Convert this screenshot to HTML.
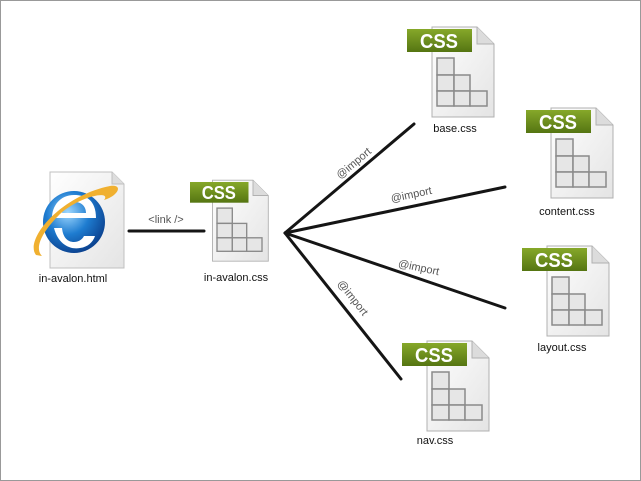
<!DOCTYPE html>
<html><head><style>
html,body{margin:0;padding:0;background:#fff;}
svg{display:block;}
text{font-family:"Liberation Sans",sans-serif;}
</style></head><body>
<svg width="641" height="481" viewBox="0 0 641 481">
<defs>
<linearGradient id="gb" x1="0" y1="0" x2="0" y2="1"><stop offset="0" stop-color="#86a82a"/><stop offset="1" stop-color="#557512"/></linearGradient>
<linearGradient id="pg" x1="0" y1="0" x2="1" y2="1"><stop offset="0" stop-color="#ffffff"/><stop offset="1" stop-color="#e4e4e4"/></linearGradient>
<radialGradient id="eb" cx="0.4" cy="0.35" r="0.7"><stop offset="0" stop-color="#9fd8ff"/><stop offset="0.5" stop-color="#1e7cd0"/><stop offset="1" stop-color="#0a3d8a"/></radialGradient>
<g id="icon">
<path d="M25,-2 H70 L87,15 V88 H25 Z" fill="url(#pg)" stroke="#b0b0b0" stroke-width="1"/>
<path d="M70,-2 V15 H87" fill="#dcdcdc" stroke="#b0b0b0"/>
<g fill="#e6e6e6" stroke="#8a8a8a" stroke-width="1.5">
<rect x="30" y="29" width="17" height="17"/>
<rect x="30" y="46" width="17" height="16"/>
<rect x="47" y="46" width="16" height="16"/>
<rect x="30" y="62" width="17" height="15"/>
<rect x="47" y="62" width="16" height="15"/>
<rect x="63" y="62" width="17" height="15"/>
</g>
<rect x="0" y="0" width="65" height="23" fill="url(#gb)"/>
<text x="13" y="19" fill="#fff" font-size="20" font-weight="bold" textLength="38" lengthAdjust="spacingAndGlyphs">CSS</text>
</g>
</defs>
<rect x="0.5" y="0.5" width="640" height="480" fill="#fff" stroke="#999"/>

<g stroke="#151515" stroke-width="3" stroke-linecap="round">
<line x1="129" y1="231" x2="204" y2="231"/>
<line x1="285" y1="233" x2="414" y2="124"/>
<line x1="285" y1="233" x2="505" y2="187"/>
<line x1="285" y1="233" x2="505" y2="308"/>
<line x1="285" y1="233" x2="401" y2="379"/>
</g>
<g fill="#555" font-size="11">
<text x="166" y="223" text-anchor="middle">&lt;link /&gt;</text>
<text transform="translate(356,166) rotate(-40)" text-anchor="middle">@import</text>
<text transform="translate(412,198) rotate(-11.8)" text-anchor="middle">@import</text>
<text transform="translate(418,271) rotate(11.8)" text-anchor="middle">@import</text>
<text transform="translate(350,300) rotate(51.5)" text-anchor="middle">@import</text>
</g>

<path d="M50,172 H112 L124,184 V268 H50 Z" fill="url(#pg)" stroke="#c0c0c0"/>
<path d="M112,172 V184 H124" fill="#ddd" stroke="#c0c0c0"/>
<circle cx="74" cy="222" r="31" fill="url(#eb)"/>
<path d="M52,218 H96 C96,200 86,195 74,195 C60,195 52,206 52,218 Z M62,213 C64,205 70,202 75,202 C81,202 86,206 86,213 Z" fill="#fff" fill-rule="evenodd"/>
<path d="M54,228 C58,244 70,250 80,248 C88,247 93,242 95,236 H84 C82,240 78,242 74,242 C68,242 63,238 62,228 Z" fill="#fff"/>
<path d="M36,255 C24,240 60,196 110,186 C124,184 118,196 104,200 C112,190 80,196 60,214 C42,232 34,248 42,256 Z" fill="#f0b030"/>
<text x="73" y="282" text-anchor="middle" font-size="11" fill="#111">in-avalon.html</text>

<g transform="translate(190,182) scale(0.9)"><use href="#icon"/></g>
<text x="236" y="281" text-anchor="middle" font-size="11" fill="#111">in-avalon.css</text>

<use href="#icon" x="407" y="29"/>
<text x="455" y="132" text-anchor="middle" font-size="11" fill="#111">base.css</text>

<use href="#icon" x="526" y="110"/>
<text x="567" y="215" text-anchor="middle" font-size="11" fill="#111">content.css</text>

<use href="#icon" x="522" y="248"/>
<text x="562" y="351" text-anchor="middle" font-size="11" fill="#111">layout.css</text>

<use href="#icon" x="402" y="343"/>
<text x="435" y="444" text-anchor="middle" font-size="11" fill="#111">nav.css</text>
</svg>
</body></html>
